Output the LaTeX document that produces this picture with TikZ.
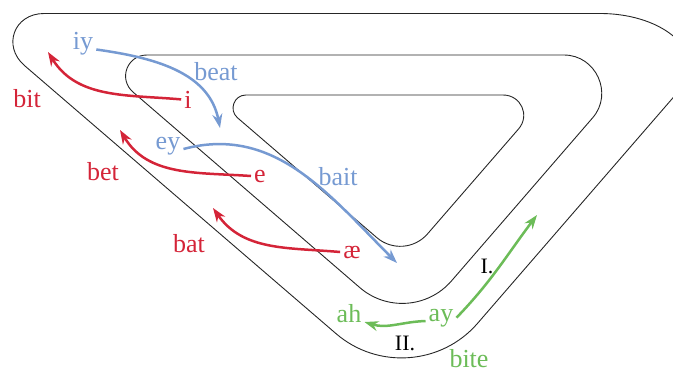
\documentclass[tikz,border=0pt]{standalone}
\usepackage{fontspec}
\setmainfont{Liberation Serif}
\usetikzlibrary{calc,arrows.meta}

\definecolor{vred}{RGB}{212,36,56}
\definecolor{vblue}{RGB}{118,154,210}
\definecolor{vgreen}{RGB}{108,188,88}

\begin{document}
\begin{tikzpicture}[
    x=1pt, y=1pt,
    >={Stealth[length=14pt,width=10pt]},
    track/.style={line width=0.9pt, draw=black!85},
    word/.style={text=#1, font=\fontsize{26}{30}\selectfont, inner sep=3pt, anchor=base},
    stage/.style={font=\fontsize{22}{26}\selectfont, inner sep=2pt, anchor=base},
    glide/.style={->, line width=2.5pt, draw=#1},
]
\useasboundingbox (0,0) rectangle (673,-373);

% ── Triangle corners (outer, middle, inner) ──────────────────
\coordinate (Ao) at (-36,-13.5);  \coordinate (Bo) at (746,-13.5);  \coordinate (Co) at (412,-399);
\coordinate (Am) at (90,-55);   \coordinate (Bm) at (647,-55);  \coordinate (Cm) at (409,-330);
\coordinate (Ai) at (211,-95);  \coordinate (Bi) at (548,-95);  \coordinate (Ci) at (404,-261);

% cut points and handles of each rounded corner
\foreach \v/\p/\n/\ra/\rb/\ca/\cb in {
    Ao/Co/Bo/80/80/50/50, Bo/Ao/Co/146/100/80/55, Co/Bo/Ao/100/100/45/45,
    Am/Cm/Bm/57/57/37/37, Bm/Am/Cm/83/83/51/51,   Cm/Bm/Am/65/65/29/29,
    Ai/Ci/Bi/35/35/23/23, Bi/Ai/Ci/45/45/27/27,   Ci/Bi/Ai/36/36/16/16} {
  \coordinate (\v-in)  at ($(\v)!\ra pt!(\p)$);
  \coordinate (\v-c1)  at ($(\v)!\ca pt!(\p)$);
  \coordinate (\v-c2)  at ($(\v)!\cb pt!(\n)$);
  \coordinate (\v-out) at ($(\v)!\rb pt!(\n)$);
}

\foreach \s in {o,m,i}
  \draw[track] (A\s-out) -- (B\s-in) .. controls (B\s-c1) and (B\s-c2) .. (B\s-out)
    -- (C\s-in) .. controls (C\s-c1) and (C\s-c2) .. (C\s-out)
    -- (A\s-in) .. controls (A\s-c1) and (A\s-c2) .. (A\s-out) -- cycle;

% ── Vowels and words ─────────────────────────────────────────
\node[word=vblue] (iy)   at (83,-49.5) {iy};
\node[word=vblue] (beat) at (216,-80)  {beat};
\node[word=vred]  (i)    at (188,-108) {i};
\node[word=vred]  (bit)  at (27,-107)  {bit};
\node[word=vblue] (ey)   at (168,-149) {ey};
\node[word=vred]  (e)    at (260,-182) {e};
\node[word=vred]  (bet)  at (103,-180) {bet};
\node[word=vblue] (bait) at (338,-185) {bait};
\node[word=vred]  (bat)  at (189,-252) {bat};
\node[word=vred]  (ae)   at (352,-258) {æ};
\node[word=vgreen] (ah)  at (349,-322) {ah};
\node[word=vgreen] (ay)  at (441,-321) {ay};
\node[word=vgreen, inner sep=1pt] (bite) at (469,-367) {bite};

\node[stage] (one) at (487,-273) {I.};
\node[stage] (two) at (405,-350) {II.};

% ── Arrow ends ───────────────────────────────────────────────
\coordinate (iyend) at (220,-128);
\coordinate (eyend) at (397,-263);
\coordinate (iend)  at (48,-52);
\coordinate (eend)  at (120,-130);
\coordinate (aeend) at (213,-208);
\coordinate (ayend) at (537,-215);

% ── Shifts ───────────────────────────────────────────────────
\draw[glide=vblue] (iy.base east) to[out=-8, in=101] (iyend);
\draw[glide=vblue] (ey.base east) to[out=15, in=135] (eyend);

\draw[glide=vred] (i.west)  to[out=175, in=-58] (iend);
\draw[glide=vred] (e.west)  to[out=176, in=-59] (eend);
\draw[glide=vred] (ae.west) to[out=175, in=-55] (aeend);

\draw[glide=vgreen] (ay.east) to[out=46, in=-127] (ayend);
\draw[glide=vgreen] (ay.base west) to[out=182, in=-17] (ah.base east);

\end{tikzpicture}
\end{document}
